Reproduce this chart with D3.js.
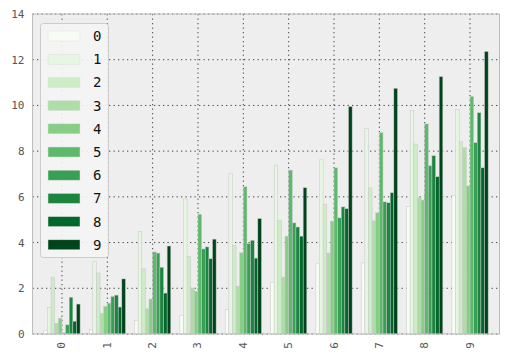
<!DOCTYPE html>
<html><head><meta charset="utf-8">
<script src="https://cdn.jsdelivr.net/npm/d3@7"></script>
<style>body{margin:0;background:#fff}svg{display:block}</style>
</head><body><svg id="c" width="507" height="359"></svg>
<script>
const categories = ["0","1","2","3","4","5","6","7","8","9"];
const seriesNames = ["0","1","2","3","4","5","6","7","8","9"];
const s0 = [0.15,0.20,0.59,0.81,1.07,2.27,3.07,3.11,5.59,6.07];
const s1 = [1.17,3.16,4.48,5.91,7.03,7.39,7.62,9.00,9.77,9.83];
const s2 = [2.49,2.67,2.86,3.40,3.88,4.98,5.68,6.39,8.31,8.41];
const s3 = [0.47,0.91,1.10,2.01,2.09,2.49,3.54,4.95,5.96,8.15];
const s4 = [0.69,1.21,1.53,1.87,3.55,4.28,4.94,5.30,5.86,6.48];
const s5 = [0.05,1.35,3.59,5.24,6.44,7.17,7.27,8.81,9.19,10.39];
const s6 = [0.40,1.64,3.54,3.72,3.95,4.86,5.08,5.78,7.36,8.37];
const s7 = [1.61,1.70,2.92,3.81,4.10,4.68,5.56,5.74,7.80,9.68];
const s8 = [0.56,1.18,1.79,3.29,3.32,4.28,5.48,6.18,6.88,7.27];
const s9 = [1.31,2.41,3.85,4.15,5.05,6.40,9.95,10.75,11.26,12.36];
const yTicks = [0,2,4,6,8,10,12,14];
const greens9 = ["#f7fcf5","#e5f5e0","#c7e9c0","#a1d99b","#74c476","#41ab5d","#238b45","#006d2c","#00441b"];

const series = [s0,s1,s2,s3,s4,s5,s6,s7,s8,s9];
const cmap = d3.scaleLinear().domain(d3.range(9).map(i=>i/8)).range(greens9).interpolate(d3.interpolateRgb);
const colors = seriesNames.map((_,i)=>cmap(i/(seriesNames.length-1)));

const svg = d3.select("#c");
const L=32.5, R=499.5, T=14, B=334;
const groupW = 0.8, K = series.length, bw = groupW/K;
const x = d3.scaleLinear().domain([-0.65, categories.length-1+0.65]).range([L,R]);
const y = d3.scaleLinear().domain([0,14]).range([B,T]);
const mono = "'DejaVu Sans Mono', monospace";

svg.append("rect").attr("x",L).attr("y",T).attr("width",R-L).attr("height",B-T).attr("fill","#eeeeee");

const grid = svg.append("g");
grid.selectAll("line.h").data(yTicks).join("line")
  .attr("x1",L).attr("x2",R).attr("y1",d=>y(d)).attr("y2",d=>y(d))
  .attr("stroke","#444").attr("stroke-width",1).attr("stroke-dasharray","1.3,3.2");
grid.selectAll("line.v").data(categories).join("line")
  .attr("x1",(d,i)=>x(i)).attr("x2",(d,i)=>x(i)).attr("y1",T).attr("y2",B)
  .attr("stroke","#444").attr("stroke-width",1).attr("stroke-dasharray","1.3,3.2");

const bars = svg.append("g");
series.forEach((vals,si)=>{
  bars.selectAll(null).data(vals).join("rect")
    .attr("x",(d,gi)=>x(gi - groupW/2 + si*bw))
    .attr("width",x(bw)-x(0))
    .attr("y",d=>y(d))
    .attr("height",d=>y(0)-y(d))
    .attr("fill",colors[si])
    .attr("stroke","#c8c8c8").attr("stroke-width",0.5);
});

svg.append("rect").attr("x",L).attr("y",T).attr("width",R-L).attr("height",B-T)
  .attr("fill","none").attr("stroke","#bcbcbc").attr("stroke-width",1);

const yAxis = d3.axisLeft(y).tickValues(yTicks).tickSize(0).tickPadding(8);
const ya = svg.append("g").attr("transform",`translate(${L},0)`).call(yAxis);
ya.select(".domain").remove();
ya.selectAll("text").attr("font-family",mono).attr("font-size",11).attr("fill","#555");

const xa = svg.append("g");
xa.selectAll("text").data(categories).join("text")
  .attr("transform",(d,i)=>`translate(${x(i)},${B+8}) rotate(-90)`)
  .attr("text-anchor","end").attr("dominant-baseline","central")
  .attr("font-family",mono).attr("font-size",11).attr("fill","#555")
  .text(d=>d);

const lg = svg.append("g");
lg.append("rect").attr("x",40.5).attr("y",23.5).attr("width",68).attr("height",234).attr("rx",3)
  .attr("fill","#f4f4f4").attr("fill-opacity",0.9).attr("stroke","#cccccc");
seriesNames.forEach((n,i)=>{
  const cy = 36 + i*23.2;
  lg.append("rect").attr("x",48).attr("y",cy-5).attr("width",32).attr("height",10)
    .attr("fill",colors[i]).attr("stroke","#dddddd").attr("stroke-width",0.5);
  lg.append("text").attr("x",93).attr("y",cy).attr("dominant-baseline","central")
    .attr("font-family",mono).attr("font-size",14).attr("fill","#111").text(n);
});
</script></body></html>
